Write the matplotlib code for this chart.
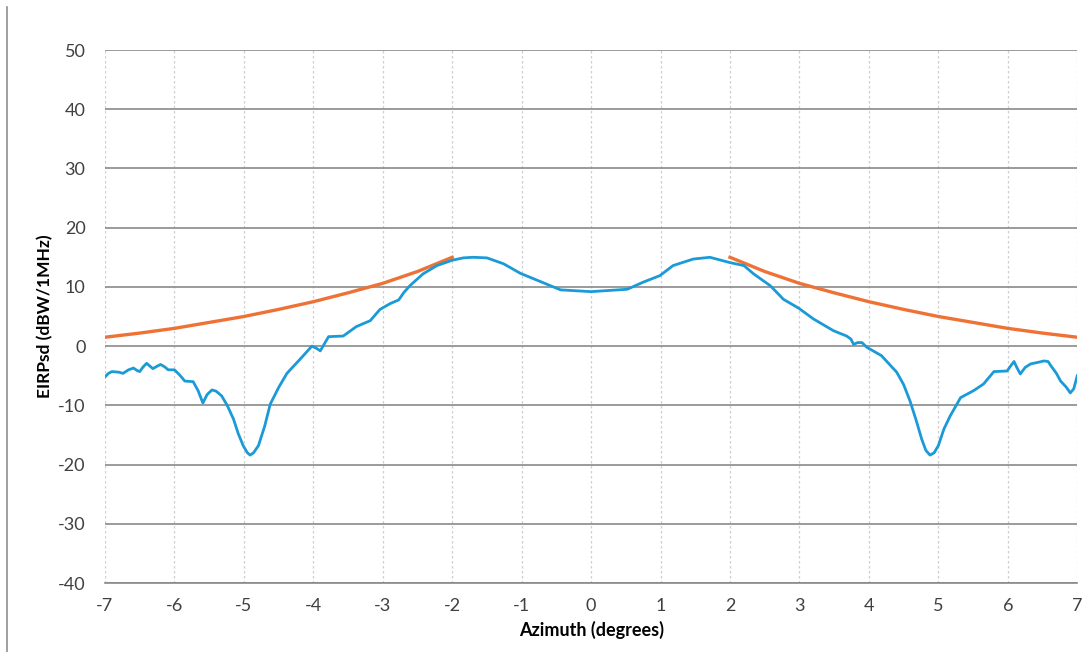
import matplotlib.pyplot as plt
from matplotlib.lines import Line2D

plt.rcParams['font.family'] = ['Lato', 'DejaVu Sans']
plt.rcParams['axes.unicode_minus'] = False

blue_az = [-7.0, -6.95, -6.90, -6.80, -6.74, -6.66, -6.59, -6.54, -6.50, -6.45,
           -6.40, -6.35, -6.31, -6.25, -6.20, -6.14, -6.09, -6.0, -5.93, -5.85,
           -5.73, -5.66, -5.59, -5.53, -5.46, -5.40, -5.32, -5.24, -5.15, -5.08,
           -5.01, -4.95, -4.91, -4.86, -4.79, -4.70, -4.62, -4.50, -4.38, -4.19,
           -4.02, -3.95, -3.90, -3.84, -3.78, -3.57, -3.38, -3.18, -3.04, -2.89,
           -2.77, -2.70, -2.61, -2.42, -2.22, -2.00, -1.84, -1.70, -1.50, -1.26,
           -1.02, -0.73, -0.44, 0.0, 0.52, 0.75, 0.99, 1.18, 1.47, 1.71,
           2.00, 2.20, 2.34, 2.58, 2.77, 2.99, 3.20, 3.49, 3.68, 3.74,
           3.78, 3.84, 3.90, 3.97, 4.18, 4.40, 4.50, 4.59, 4.68, 4.76,
           4.82, 4.88, 4.94, 5.00, 5.08, 5.17, 5.32, 5.51, 5.65, 5.80,
           5.99, 6.05, 6.09, 6.13, 6.18, 6.25, 6.33, 6.45, 6.52, 6.58,
           6.62, 6.70, 6.76, 6.84, 6.90, 6.95, 7.0]
blue_val = [-5.2, -4.6, -4.3, -4.4, -4.6, -4.0, -3.7, -4.1, -4.3, -3.5,
            -2.9, -3.4, -3.8, -3.4, -3.1, -3.5, -4.0, -4.0, -4.8, -5.9,
            -6.0, -7.5, -9.6, -8.2, -7.4, -7.6, -8.4, -10.0, -12.3, -14.8,
            -16.8, -18.0, -18.4, -18.0, -16.8, -13.5, -9.8, -7.0, -4.6, -2.2,
            0.0, -0.4, -0.8, 0.4, 1.6, 1.7, 3.3, 4.3, 6.2, 7.2,
            7.8, 9.0, 10.2, 12.2, 13.6, 14.5, 14.9, 15.0, 14.9, 13.9,
            12.3, 10.9, 9.5, 9.2, 9.6, 10.8, 11.9, 13.6, 14.7, 15.0,
            14.1, 13.6, 12.2, 10.2, 7.9, 6.4, 4.6, 2.6, 1.7, 1.2,
            0.3, 0.6, 0.6, -0.2, -1.6, -4.4, -6.5, -9.2, -12.5, -15.7,
            -17.6, -18.4, -18.0, -16.8, -14.0, -11.8, -8.7, -7.5, -6.4, -4.3,
            -4.2, -3.2, -2.6, -3.6, -4.7, -3.6, -3.0, -2.7, -2.5, -2.6,
            -3.3, -4.6, -5.9, -6.9, -7.9, -7.2, -5.0]

# Orange curve: mask, left and right branches
mask_az_left = [-7.0, -6.5, -6.0, -5.5, -5.0, -4.5, -4.0, -3.5, -3.0, -2.5, -2.0]
mask_val_left = [1.5, 2.2, 3.0, 4.0, 5.0, 6.2, 7.5, 9.0, 10.6, 12.6, 15.0]
mask_az_right = [2.0, 2.5, 3.0, 3.5, 4.0, 4.5, 5.0, 5.5, 6.0, 6.5, 7.0]
mask_val_right = [15.0, 12.6, 10.6, 9.0, 7.5, 6.2, 5.0, 4.0, 3.0, 2.2, 1.5]

x_ticks = list(range(-7, 8))
y_ticks = list(range(-40, 60, 10))

fig = plt.figure(figsize=(10.9, 6.52), dpi=100)
ax = fig.add_axes([0.0963, 0.1058, 0.892, 0.8175])

ax.plot(mask_az_left, mask_val_left, color='#ee7235', lw=2.4, zorder=3)
ax.plot(mask_az_right, mask_val_right, color='#ee7235', lw=2.4, zorder=3)
ax.plot(blue_az, blue_val, color='#1a9bd7', lw=2.0, zorder=4)

ax.set_xlim(-7, 7)
ax.set_ylim(-40, 50)
ax.set_xticks(x_ticks)
ax.set_yticks(y_ticks)

# Excel-like gridlines
ax.grid(axis='y', color='#8a8a8a', lw=1.2, linestyle='-')
ax.grid(axis='x', color='#cfcfcf', lw=0.9, linestyle=(0, (2, 2)))
ax.set_axisbelow(True)
for side in ['top', 'right', 'left']:
    ax.spines[side].set_visible(False)
ax.spines['bottom'].set_color('#8a8a8a')
ax.spines['bottom'].set_linewidth(1.2)
ax.tick_params(axis='both', length=0, labelsize=13, colors='#404040')
ax.tick_params(axis='y', pad=14)
ax.tick_params(axis='x', pad=11)

ax.set_ylabel('EIRPsd (dBW/1MHz)', fontsize=12.5, fontweight='bold', labelpad=3)
ax.set_xlabel('Azimuth (degrees)', fontsize=13, fontweight='bold', labelpad=5)

# scan border on the left
fig.add_artist(Line2D([0.0064, 0.0064], [0.0, 0.99], color='#909090', lw=1.2))

plt.savefig('out.png', dpi=100)
plt.close()
